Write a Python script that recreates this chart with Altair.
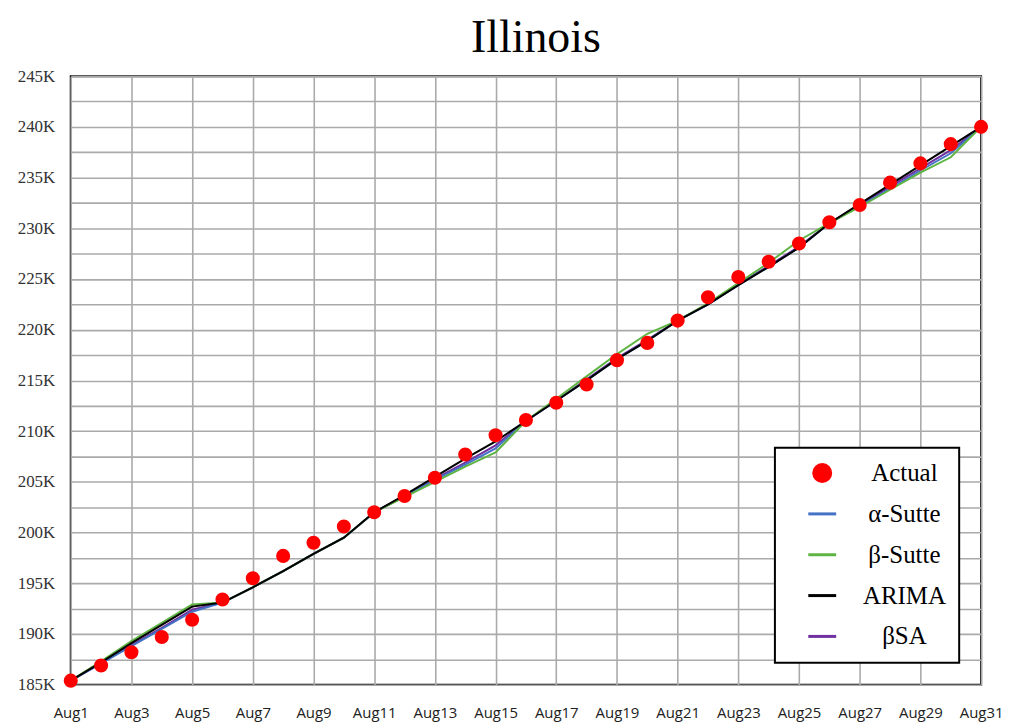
import altair as alt
import pandas as pd

DAYS = list(range(1, 32))

ACTUAL = [185.4, 186.9, 188.2, 189.7, 191.4, 193.4, 195.5, 197.7, 199.0, 200.6,
          202.0, 203.6, 205.4, 207.7, 209.6, 211.1, 212.8, 214.6, 217.0, 218.7,
          220.9, 223.2, 225.2, 226.7, 228.5, 230.6, 232.3, 234.5, 236.4, 238.3, 240.0]

ALPHA_SUTTE = [185.4, 187.1, 188.8, 190.5, 192.2, 193.1, 194.6, 196.2, 197.9, 199.5,
               202.0, 203.6, 205.2, 206.7, 208.3, 211.0, 213.0, 215.0, 217.1, 218.9,
               220.9, 222.5, 224.4, 226.2, 228.1, 230.5, 232.2, 233.9, 235.7, 237.4, 240.0]

BETA_SUTTE = [185.4, 187.3, 189.3, 191.1, 192.9, 193.1, 194.6, 196.2, 197.9, 199.5,
              202.0, 203.5, 205.0, 206.5, 207.9, 211.0, 213.2, 215.4, 217.6, 219.6,
              220.9, 222.6, 224.6, 226.6, 228.8, 230.5, 232.1, 233.8, 235.5, 237.0, 240.0]

ARIMA = [185.4, 187.2, 189.1, 190.9, 192.7, 193.1, 194.6, 196.2, 197.9, 199.5,
         202.0, 203.7, 205.5, 207.3, 209.0, 211.0, 213.0, 215.0, 217.1, 218.9,
         220.9, 222.5, 224.4, 226.2, 228.1, 230.5, 232.4, 234.3, 236.2, 238.1, 240.0]

BSA = [185.4, 187.1, 188.9, 190.6, 192.4, 193.1, 194.6, 196.2, 197.9, 199.5,
       202.0, 203.6, 205.3, 206.9, 208.6, 211.0, 213.0, 215.1, 217.2, 219.0,
       220.9, 222.5, 224.5, 226.3, 228.2, 230.5, 232.3, 234.1, 235.9, 237.7, 240.0]

SERIES = ["Actual", "α-Sutte", "β-Sutte", "ARIMA", "βSA"]
COLORS = ["#ff0000", "#4472c4", "#5fb543", "#000000", "#7030a0"]
BAR = "M-1.4,-0.15L1.4,-0.15L1.4,0.15L-1.4,0.15Z"
SHAPES = ["circle", BAR, BAR, BAR, BAR]

X_TICKS = list(range(1, 32, 2))
Y_TICKS = [185 + 2.5 * i for i in range(25)]

df = pd.DataFrame({
    "day": DAYS,
    "actual": ACTUAL,
    "alpha": ALPHA_SUTTE,
    "beta": BETA_SUTTE,
    "arima": ARIMA,
    "bsa": BSA,
})

GRID = "#aaaaaa"


def xenc():
    return alt.X(
        "day:Q",
        scale=alt.Scale(domain=[1, 31], nice=False, zero=False),
        axis=alt.Axis(values=X_TICKS, labelExpr="'Aug' + datum.value", title=None,
                      tickSize=0, domain=False, labelFont="Open Sans", labelFontSize=15,
                      labelColor="#222222", labelPadding=21, labelFlush=False,
                      labelOverlap=False, gridColor=GRID, gridWidth=1.6),
    )


def yenc(field):
    return alt.Y(
        field, type="quantitative",
        scale=alt.Scale(domain=[185, 245], nice=False, zero=False),
        axis=alt.Axis(values=Y_TICKS,
                      labelExpr="datum.value % 5 == 0 ? datum.value + 'K' : ''",
                      title=None, tickSize=0, domain=False, labelFont="Liberation Serif",
                      labelFontSize=17, labelColor="#333333", labelPadding=16,
                      labelFlush=False, labelOverlap=False, gridColor=GRID, gridWidth=1.6),
    )


base = alt.Chart(df)

line_specs = [("bsa", "#7030a0"), ("alpha", "#4472c4"), ("beta", "#5fb543"), ("arima", "#000000")]
lines = [
    base.mark_line(strokeWidth=2).encode(x=xenc(), y=yenc(f), color=alt.value(c))
    for f, c in line_specs
]

legend = alt.Legend(
    title=None, orient="bottom-right", offset=22, padding=13,
    fillColor="white", strokeColor="black",
    symbolSize=400, symbolStrokeWidth=0, symbolOffset=22,
    labelFont="Liberation Serif", labelFontSize=25, labelColor="black",
    labelAlign="center", labelOffset=70, rowPadding=15,
)

points = base.transform_calculate(series="'Actual'").mark_point(
    filled=True, size=200, opacity=1
).encode(
    x=xenc(), y=yenc("actual"),
    color=alt.Color("series:N", scale=alt.Scale(domain=SERIES, range=COLORS), legend=legend),
    shape=alt.Shape("series:N", scale=alt.Scale(domain=SERIES, range=SHAPES), legend=legend),
)

chart = alt.layer(*lines, points).properties(
    width=914,
    height=611,
    title=alt.TitleParams("Illinois", font="Liberation Serif", fontSize=46,
                          fontWeight="normal", color="black", anchor="middle",
                          offset=5, dx=10),
    padding={"left": 9, "top": 6, "right": 0, "bottom": 0},
).configure_view(stroke="black", strokeWidth=2).configure_legend(strokeWidth=2)

chart.save("out.html", embed_options={"renderer": "svg", "actions": False})
